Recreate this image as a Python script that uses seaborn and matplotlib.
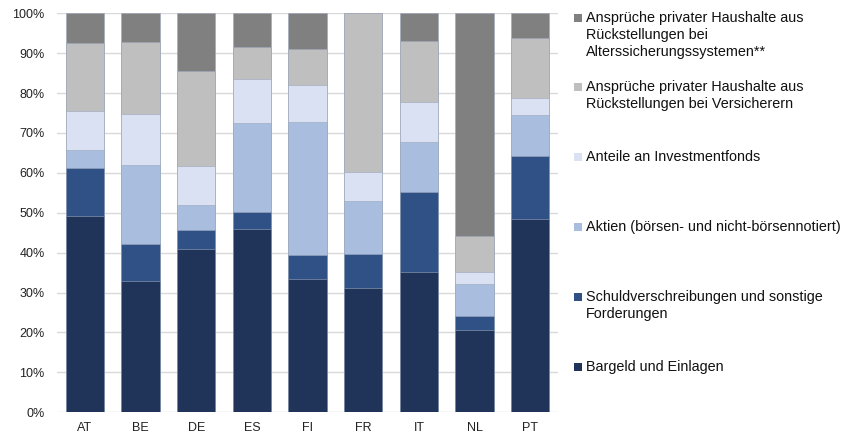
import matplotlib
matplotlib.use("Agg")
import matplotlib.pyplot as plt
from matplotlib.patches import Rectangle
import numpy as np
import seaborn as sns

# Countries
categories = ["AT", "BE", "DE", "ES", "FI", "FR", "IT", "NL", "PT"]

# Portfolio shares (percent of financial assets), bottom to top
bargeld = [49.2, 33.0, 40.8, 46.0, 33.5, 31.2, 35.2, 20.5, 48.5]
schuldverschreibungen = [12.0, 9.1, 4.9, 4.2, 5.9, 8.4, 20.1, 3.6, 15.8]
aktien = [4.5, 19.9, 6.3, 22.2, 33.4, 13.4, 12.4, 8.1, 10.2]
investmentfonds = [9.8, 12.8, 9.7, 11.1, 9.3, 7.2, 10.1, 2.9, 4.3]
versicherer = [17.1, 18.1, 23.8, 8.1, 9.0, 39.8, 15.3, 9.0, 14.9]
alterssicherung = [7.4, 7.1, 14.5, 8.4, 8.9, 0.0, 6.9, 55.9, 6.3]

series_labels = [
    "Bargeld und Einlagen",
    "Schuldverschreibungen und sonstige\nForderungen",
    "Aktien (börsen- und nicht-börsennotiert)",
    "Anteile an Investmentfonds",
    "Ansprüche privater Haushalte aus\nRückstellungen bei Versicherern",
    "Ansprüche privater Haushalte aus\nRückstellungen bei\nAlterssicherungssystemen**",
]
series_colors = ["#203459", "#2F5185", "#A9BEDF", "#D9E1F2", "#BFBFBF", "#808080"]
y_ticks = [0, 10, 20, 30, 40, 50, 60, 70, 80, 90, 100]

sns.set_theme(style="white")
plt.rcParams["font.family"] = ["Liberation Sans", "DejaVu Sans"]

fig = plt.figure(figsize=(8.53, 4.36), dpi=100)
ax = fig.add_axes([0.0668, 0.0544, 0.5875, 0.9151])

series = [bargeld, schuldverschreibungen, aktien, investmentfonds, versicherer, alterssicherung]
cumulative = np.cumsum(np.array(series), axis=0)

# Stacked bars: draw cumulative totals from the top segment downwards
for i in range(len(series) - 1, -1, -1):
    sns.barplot(x=categories, y=cumulative[i], color=series_colors[i],
                saturation=1, width=0.69, edgecolor="#9AA6BA", linewidth=0.4,
                ax=ax, zorder=3)

ax.set_xlim(-0.5, len(categories) - 0.5)
ax.set_ylim(0, 100)
ax.set_yticks(y_ticks)
ax.set_yticklabels([f"{t}%" for t in y_ticks])
ax.yaxis.grid(True, color="#D9D9D9", linewidth=1.0, zorder=0)
ax.xaxis.grid(False)
ax.set_axisbelow(True)
for s in ax.spines.values():
    s.set_visible(False)
ax.tick_params(axis="y", length=0, pad=9, labelsize=9, labelcolor="#222222")
ax.tick_params(axis="x", length=0, pad=7, labelsize=9, labelcolor="#222222")
ax.set_xlabel("")
ax.set_ylabel("")

# Legend to the right, top entry first (square marker beside the first line)
W, H = 853, 436
legend_y = [18, 87, 157, 227, 297, 367]
for k, idx in enumerate(range(len(series) - 1, -1, -1)):
    yc = legend_y[k]
    fig.add_artist(Rectangle((574 / W, (H - yc - 4) / H), 8 / W, 8 / H,
                             transform=fig.transFigure,
                             facecolor=series_colors[idx], edgecolor="none"))
    for j, line in enumerate(series_labels[idx].split("\n")):
        fig.text(586 / W, (H - (yc + 17 * j)) / H, line, fontsize=10.4,
                 color="#111111", va="center", ha="left")

fig.savefig("out.png", dpi=100)
